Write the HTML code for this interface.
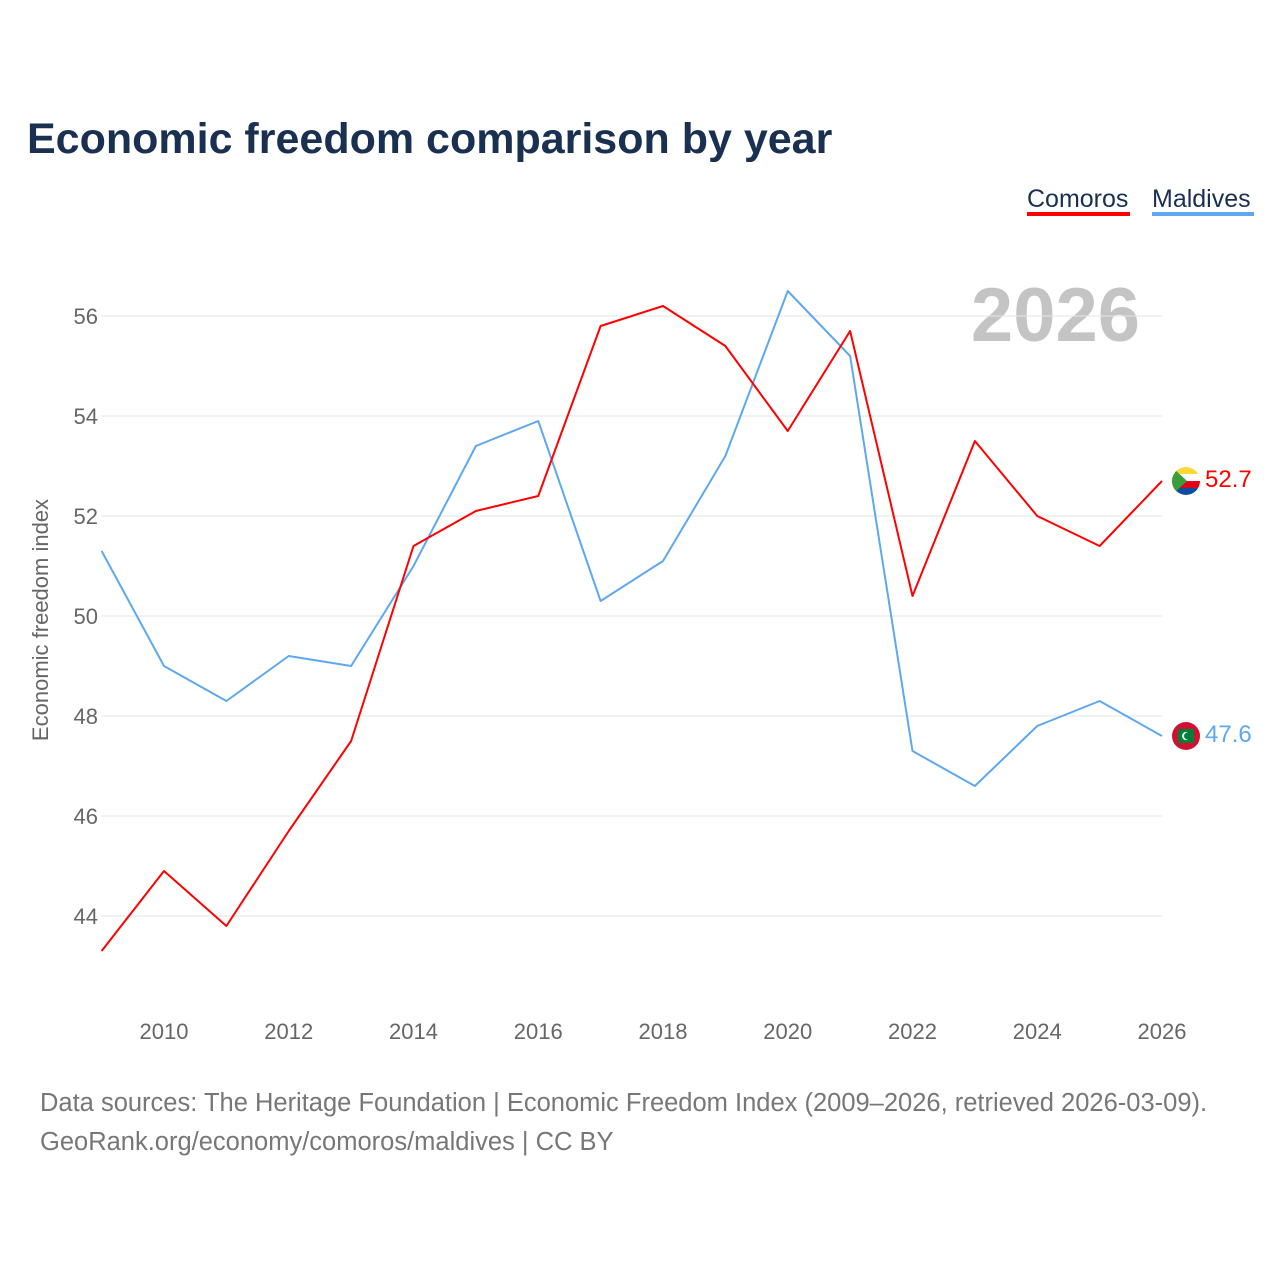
<!DOCTYPE html>
<html><head><meta charset="utf-8">
<style>
body{margin:0;background:#fff;width:1280px;height:1280px;overflow:hidden;font-family:"Liberation Sans",sans-serif;}
</style></head>
<body>
<svg id="chart" width="1280" height="1280" xmlns="http://www.w3.org/2000/svg">
<text x="27" y="153" font-size="43" font-weight="bold" fill="#1a3050" font-family="Liberation Sans, sans-serif">Economic freedom comparison by year</text>
<g>
<text x="1027" y="207" font-size="25" fill="#1a3050">Comoros</text>
<rect x="1027" y="212" width="103" height="4" fill="#ff0000"/>
<text x="1152" y="207" font-size="25" fill="#1a3050">Maldives</text>
<rect x="1152" y="212" width="102" height="4" fill="#5fa8ee"/>
</g>
<text x="1140" y="341" font-size="76" font-weight="bold" fill="#c4c4c4" text-anchor="end">2026</text>
<text transform="translate(48,620) rotate(-90)" font-size="22" fill="#666" text-anchor="middle">Economic freedom index</text>
<g id="grid"></g><g id="yticks"></g><g id="xticks"></g><g id="lines"></g>
<g>
<clipPath id="c1"><circle cx="1186" cy="481" r="14"/></clipPath>
<g clip-path="url(#c1)"><rect x="1172" y="467" width="28" height="7" fill="#ffd836"/><rect x="1172" y="474" width="28" height="7" fill="#fff"/><rect x="1172" y="481" width="28" height="7" fill="#e3001b"/><rect x="1172" y="488" width="28" height="8" fill="#0b4ea2"/><polygon points="1172,467 1187,481 1172,495" fill="#3a9e3a"/></g>
</g>
<g>
<circle cx="1186" cy="736" r="14" fill="#d21034"/><rect x="1178" y="729" width="16" height="14" fill="#007e3a"/><circle cx="1186" cy="736" r="4" fill="#fff"/><circle cx="1187.5" cy="736" r="3.5" fill="#007e3a"/>
</g>
<text id="lab1" x="1205" y="486" font-size="24" fill="#ff0000">52.7</text>
<text id="lab2" x="1205" y="742" font-size="24" fill="#5fa8ee">47.6</text>
<text x="40" y="1111" font-size="25.5" fill="#777">Data sources: The Heritage Foundation | Economic Freedom Index (2009–2026, retrieved 2026-03-09).</text>
<text x="40" y="1150" font-size="25.5" fill="#777">GeoRank.org/economy/comoros/maldives | CC BY</text>
</svg>
<script>
const years=[2009,2010,2011,2012,2013,2014,2015,2016,2017,2018,2019,2020,2021,2022,2023,2024,2025,2026];
const comoros=[43.3,44.9,43.8,45.7,47.5,51.4,52.1,52.4,55.8,56.2,55.4,53.7,55.7,50.4,53.5,52.0,51.4,52.7];
const maldives=[51.3,49.0,48.3,49.2,49.0,51.0,53.4,53.9,50.3,51.1,53.2,56.5,55.2,47.3,46.6,47.8,48.3,47.6];
const yTicks=[44,46,48,50,52,54,56];
const xTicks=[2010,2012,2014,2016,2018,2020,2022,2024,2026];
const NS="http://www.w3.org/2000/svg";
const xS=y=>164+(y-2010)*62.375;
const yS=v=>316+(56-v)*50;
function mk(t,a,p){const e=document.createElementNS(NS,t);for(const k in a)e.setAttribute(k,a[k]);p.appendChild(e);return e;}
const grid=document.getElementById('grid'),yt=document.getElementById('yticks'),xt=document.getElementById('xticks'),ln=document.getElementById('lines');
yTicks.forEach(v=>{
 const l=mk('line',{x1:101,x2:1162,y1:yS(v),y2:yS(v),stroke:'#e6e6e6','stroke-width':1},grid);
 
 
 const t=mk('text',{x:98,y:yS(v)+8,'font-size':22,fill:'#666','text-anchor':'end'},yt);
 t.textContent=v;
 
 
});
xTicks.forEach(y=>{
 const t=mk('text',{x:xS(y),y:1039,'font-size':22,fill:'#666','text-anchor':'middle'},xt);
 t.textContent=y;
 
 
});
function line(vals,color,name){
 const pts=vals.map((v,i)=>xS(years[i])+','+yS(v)).join(' ');
 const p=mk('polyline',{points:pts,fill:'none',stroke:color,'stroke-width':2,'stroke-linejoin':'round'},ln);
 
 
}
line(maldives,'#5fa8ee','maldives-line');
line(comoros,'#ff0000','comoros-line');
const lab1=document.getElementById('lab1'),lab2=document.getElementById('lab2');
lab1.textContent=comoros[comoros.length-1].toFixed(1);
lab1.setAttribute('y',yS(comoros[comoros.length-1])+6);
lab2.textContent=maldives[maldives.length-1].toFixed(1);
lab2.setAttribute('y',yS(maldives[maldives.length-1])+6);
</script>
</body></html>
